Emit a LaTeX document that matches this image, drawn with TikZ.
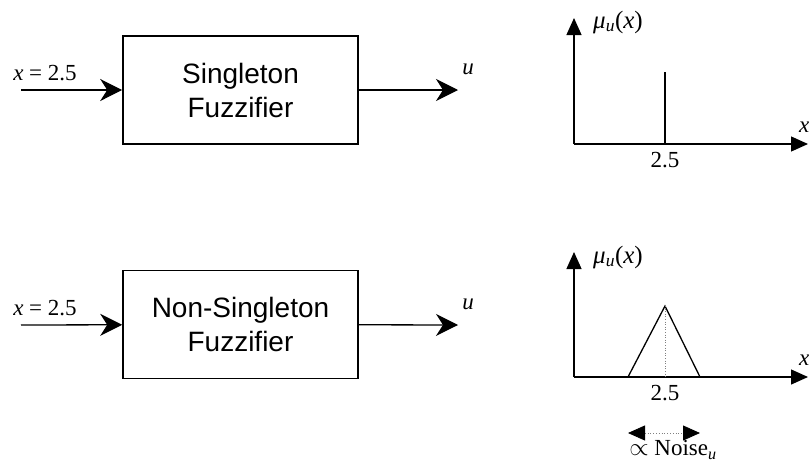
\documentclass[tikz,border=0pt]{standalone}
\usepackage{fontspec}
\setmainfont{Liberation Serif}
\newfontfamily\boxfont{Liberation Sans}
\usetikzlibrary{arrows.meta}

\tikzset{
    fuzzbox/.style={draw,line width=1.6pt,minimum width=235pt,minimum height=108pt,
        align=center,inner sep=0pt,font=\boxfont\fontsize{28pt}{34pt}\selectfont},
    sigarrow/.style={line width=1.3pt,-{Stealth[length=22pt,width=22pt,inset=7pt]}},
    axis/.style={line width=1.3pt,-{Triangle[length=17pt,width=15pt]}},
    lbl/.style={font=\fontsize{23pt}{26pt}\selectfont,inner sep=0pt},
    mulbl/.style={font=\fontsize{25pt}{28pt}\selectfont,inner sep=0pt},
}

\begin{document}
\begin{tikzpicture}[x=1pt,y=-1pt]
    \useasboundingbox (0,0) rectangle (812,466);
    \pgfmathsetmacro{\axisleft}{574}
    \pgfmathsetmacro{\axisright}{808}
    \pgfmathsetmacro{\peak}{665}

    % singleton fuzzifier
    \node[fuzzbox] (single) at (240.5,90) {Singleton\\Fuzzifier};
    \coordinate (inA) at (21,90);
    \coordinate (outA) at (458,90);
    \draw[sigarrow] (inA) -- (single);
    \draw[sigarrow] (single) -- (outA);
    \node[lbl] (xinA) at (45,73) {\textit{x} = 2.5};
    \node[lbl] (uA) at (468,69) {\textit{u}};

    % non-singleton fuzzifier
    \node[fuzzbox] (nonsingle) at (240.5,324.5) {Non-Singleton\\Fuzzifier};
    \coordinate (inB) at (21,325);
    \coordinate (outB) at (458,325);
    \draw[sigarrow] (inB) -- (nonsingle);
    \draw[sigarrow] (nonsingle) -- (outB);
    \node[lbl] (xinB) at (45,308) {\textit{x} = 2.5};
    \node[lbl] (uB) at (468,304) {\textit{u}};

    % membership of the singleton
    \coordinate (oA) at (\axisleft,144);
    \coordinate (yA) at (\axisleft,18);
    \coordinate (xA) at (\axisright,144);
    \draw[axis] (oA) -- (yA);
    \draw[axis] (oA) -- (xA);
    \coordinate (baseA) at (\peak,144);
    \coordinate (topA) at (\peak,72);
    \draw[line width=1.3pt] (baseA) -- (topA);
    \node[lbl,below=8pt] (tickA) at (baseA) {2.5};
    \node[mulbl] (muA) at (618,22) {\textit{μ\textsubscript{u}}(\textit{x})};
    \node[lbl,anchor=west] (xlA) at (799,127) {\textit{x}};

    % membership of the non-singleton
    \coordinate (oB) at (\axisleft,377);
    \coordinate (yB) at (\axisleft,252);
    \coordinate (xB) at (\axisright,377);
    \draw[axis] (oB) -- (yB);
    \draw[axis] (oB) -- (xB);
    \coordinate (leftB) at (628,377);
    \coordinate (apexB) at (\peak,306);
    \coordinate (rightB) at (700,377);
    \coordinate (baseB) at (\peak,377);
    \draw[line width=1.3pt] (leftB) -- (apexB) -- (rightB);
    \draw[gray,dotted,line width=0.6pt] (apexB) -- (baseB);
    \node[lbl,below=8pt] (tickB) at (baseB) {2.5};
    \node[mulbl] (muB) at (618,257) {\textit{μ\textsubscript{u}}(\textit{x})};
    \node[lbl,anchor=west] (xlB) at (799,360) {\textit{x}};

    % spread of the noise
    \coordinate (nl) at (628,433);
    \coordinate (nr) at (700,433);
    \draw[gray,dotted,line width=0.8pt,{Triangle[length=17pt,width=15pt,black]}-{Triangle[length=17pt,width=15pt,black]}] (nl) -- (nr);
    \node[lbl] (noise) at (673,450) {$\propto$ Noise\textsubscript{\textit{u}}};
\end{tikzpicture}
\end{document}
